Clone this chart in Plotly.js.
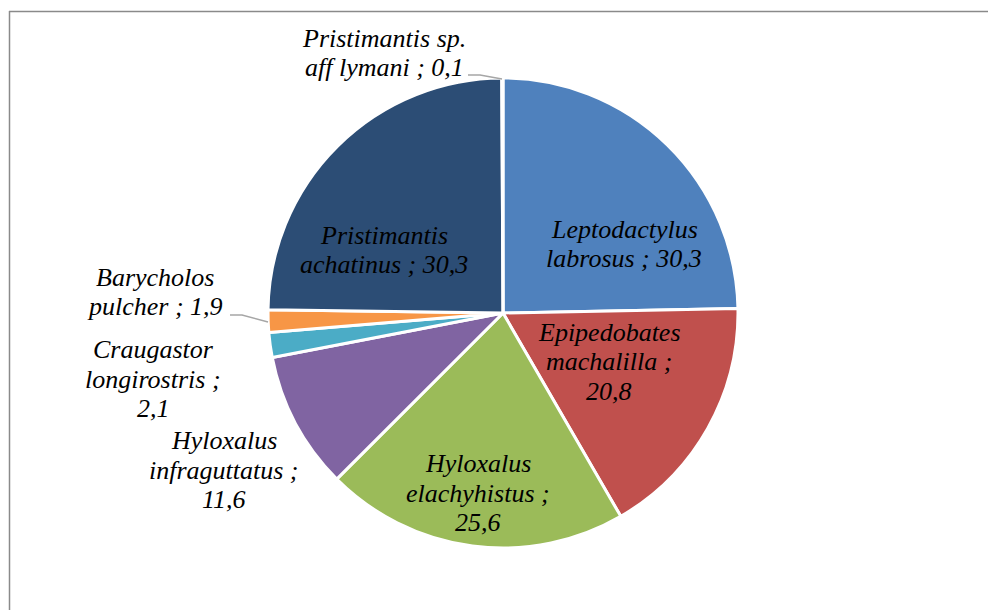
<!DOCTYPE html>
<html>
<head>
<meta charset="utf-8">
<script src="https://cdn.plot.ly/plotly-3.0.1.min.js"></script>
<style>html,body{margin:0;padding:0;background:#fff;}#chart{width:989px;height:610px;}</style>
</head>
<body>
<div id="chart"></div>
<script>
// ---- data ----
const species = [
  "Leptodactylus labrosus",
  "Epipedobates machalilla",
  "Hyloxalus elachyhistus",
  "Hyloxalus infraguttatus",
  "Craugastor longirostris",
  "Barycholos pulcher",
  "Pristimantis achatinus",
  "Pristimantis sp. aff lymani"
];
const values = [30.3, 20.8, 25.6, 11.6, 2.1, 1.9, 30.3, 0.1];
const colors = ["#4F81BD", "#C0504D", "#9BBB59", "#8064A2", "#4BACC6", "#F79646", "#2C4D75", "#772C2A"];

// ---- label formatting (line breaks) and positions in pixels ----
const labelTemplates = [
  "Leptodactylus<br>labrosus ; {v}",
  "Epipedobates<br>machalilla ;<br>{v}",
  "Hyloxalus<br>elachyhistus ;<br>{v}",
  "Hyloxalus<br>infraguttatus ;<br>{v}",
  "Craugastor<br>longirostris ;<br>{v}",
  "Barycholos<br>pulcher ; {v}",
  "Pristimantis<br>achatinus ; {v}",
  "Pristimantis sp.<br>aff lymani ; {v}"
];
const labelPos = [[624,244],[609,362],[478,493],[224,470],[153,379],[155,292],[384,250],[384,53]];
const leaders = [
  [[230,315],[242,315],[268,322]],
  [[468,75],[480,75],[502,79]]
];

const W = 989, H = 610;
const LINE = 29.5;
const px = x => x / W;
const py = y => 1 - y / H;
const fmt = v => v.toFixed(1).replace('.', ',');

const annotations = [];
species.forEach((s, i) => {
  const lines = labelTemplates[i].replace('{v}', fmt(values[i])).split('<br>');
  const n = lines.length;
  lines.forEach((ln, j) => {
    annotations.push({
      text: '<i>' + ln + '</i>',
      x: px(labelPos[i][0]), y: py(labelPos[i][1] + (j - (n - 1) / 2) * LINE),
      xref: 'paper', yref: 'paper',
      xanchor: 'center', yanchor: 'middle', align: 'center',
      showarrow: false,
      font: {family: 'Liberation Serif, Times New Roman, serif', size: 26, color: '#000'}
    });
  });
});

const shapes = [
  {type:'line', xref:'paper', yref:'paper', x0:px(9.5), x1:px(9.5), y0:py(11), y1:py(612), line:{color:'#8a8a8a', width:1.5}},
  {type:'line', xref:'paper', yref:'paper', x0:px(9), x1:px(988), y0:py(11.5), y1:py(11.5), line:{color:'#8a8a8a', width:1.5}}
];
leaders.forEach(pts => {
  let d = 'M ' + pts.map(p => px(p[0]) + ' ' + py(p[1])).join(' L ');
  shapes.push({type:'path', xref:'paper', yref:'paper', path: d, line:{color:'#A6A6A6', width:1.5}});
});

const trace = {
  type: 'pie',
  labels: species,
  values: values,
  sort: false,
  direction: 'clockwise',
  rotation: 0,
  textinfo: 'none',
  hoverinfo: 'label+value',
  marker: {colors: colors, line: {color: '#ffffff', width: 3}},
  domain: {x: [268/W, 738/W], y: [1 - 548/H, 1 - 78/H]},
  showlegend: false
};

const layout = {
  width: W, height: H,
  margin: {l:0, r:0, t:0, b:0},
  paper_bgcolor: '#ffffff',
  font: {family: 'Liberation Serif, Times New Roman, serif'},
  showlegend: false,
  annotations: annotations,
  shapes: shapes
};

Plotly.newPlot('chart', [trace], layout, {displayModeBar: false, staticPlot: true});
</script>
</body>
</html>
